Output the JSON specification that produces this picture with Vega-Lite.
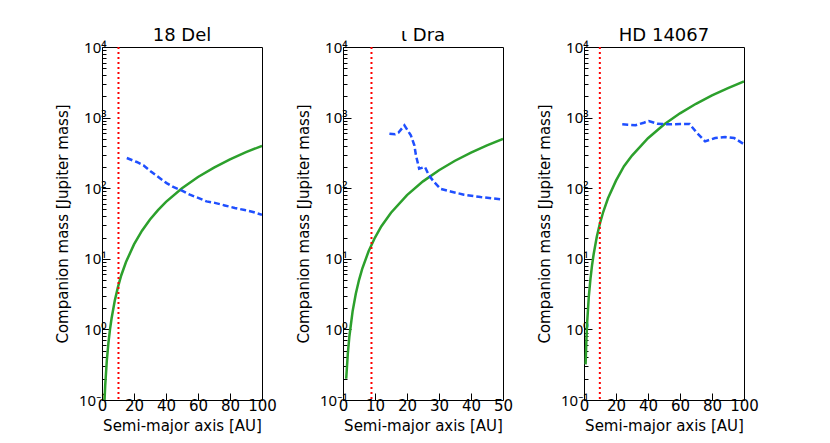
{
  "$schema": "https://vega.github.io/schema/vega-lite/v6.json",
  "padding": {"left": 55, "top": 26, "right": 5, "bottom": 5},
  "background": "white",
  "config": {
    "view": {"stroke": "#000", "strokeWidth": 1},
    "font": "DejaVu Sans",
    "axis": {
      "labelFont": "DejaVu Sans", "titleFont": "DejaVu Sans",
      "labelFontSize": 15, "titleFontSize": 15,
      "labelColor": "#000", "titleColor": "#000", "tickColor": "#000",
      "titleFontWeight": "normal", "grid": false, "domain": false,
      "labelOverlap": false, "labelSeparation": -100
    },
    "axisX": {"tickSize": -7, "labelPadding": 5, "labelFlush": false, "titlePadding": 5},
    "axisY": {
      "labelFont": "Noto Sans",
      "values": [0.1, 0.2, 0.3, 0.4, 0.5, 0.6, 0.7, 0.8, 0.9, 1, 2, 3, 4, 5, 6, 7, 8, 9, 10, 20, 30, 40, 50, 60, 70, 80, 90, 100, 200, 300, 400, 500, 600, 700, 800, 900, 1000, 2000, 3000, 4000, 5000, 6000, 7000, 8000, 9000, 10000],
      "tickSize": {"condition": {"test": "abs(log(datum.value) / LN10 - round(log(datum.value) / LN10)) < 0.01", "value": -8}, "value": -4},
      "labelExpr": "abs(log(datum.value) / LN10 - round(log(datum.value) / LN10)) > 0.01 ? '' : datum.value < 0.5 ? '10⁻¹' : datum.value < 5 ? '10⁰' : datum.value < 50 ? '10¹' : datum.value < 500 ? '10²' : datum.value < 5000 ? '10³' : '10⁴'",
      "labelPadding": 4, "titlePadding": 8
    },
    "title": {"font": "DejaVu Sans", "fontSize": 18, "fontWeight": "normal", "color": "#000", "offset": -5}
  },
  "datasets": {
    "del": [
      {"s": "limit", "a": 1, "m": 0.04}, {"s": "limit", "a": 1.5, "m": 0.09}, {"s": "limit", "a": 2, "m": 0.16},
      {"s": "limit", "a": 3, "m": 0.36}, {"s": "limit", "a": 4, "m": 0.64}, {"s": "limit", "a": 5, "m": 1.0},
      {"s": "limit", "a": 6, "m": 1.44}, {"s": "limit", "a": 8, "m": 2.56}, {"s": "limit", "a": 10, "m": 4.0},
      {"s": "limit", "a": 12, "m": 5.8}, {"s": "limit", "a": 15, "m": 9.0}, {"s": "limit", "a": 20, "m": 16},
      {"s": "limit", "a": 25, "m": 25}, {"s": "limit", "a": 30, "m": 36}, {"s": "limit", "a": 35, "m": 49},
      {"s": "limit", "a": 40, "m": 64}, {"s": "limit", "a": 50, "m": 100}, {"s": "limit", "a": 60, "m": 144},
      {"s": "limit", "a": 70, "m": 196}, {"s": "limit", "a": 80, "m": 256}, {"s": "limit", "a": 90, "m": 324},
      {"s": "limit", "a": 100, "m": 398},
      {"s": "rv", "a": 15.5, "m": 268}, {"s": "rv", "a": 21.7, "m": 235}, {"s": "rv", "a": 25.9, "m": 211},
      {"s": "rv", "a": 31, "m": 169}, {"s": "rv", "a": 35.2, "m": 144}, {"s": "rv", "a": 40.4, "m": 118},
      {"s": "rv", "a": 44.5, "m": 104}, {"s": "rv", "a": 49.7, "m": 93}, {"s": "rv", "a": 54.9, "m": 81},
      {"s": "rv", "a": 60.1, "m": 73}, {"s": "rv", "a": 65.3, "m": 65}, {"s": "rv", "a": 70.5, "m": 62},
      {"s": "rv", "a": 76.7, "m": 57}, {"s": "rv", "a": 83, "m": 52.5}, {"s": "rv", "a": 89.2, "m": 49},
      {"s": "rv", "a": 94.4, "m": 46}, {"s": "rv", "a": 100, "m": 42},
      {"s": "sep", "a": 10.3}
    ],
    "dra": [
      {"s": "limit", "a": 1, "m": 0.2}, {"s": "limit", "a": 1.5, "m": 0.45}, {"s": "limit", "a": 2, "m": 0.8},
      {"s": "limit", "a": 3, "m": 1.8}, {"s": "limit", "a": 4, "m": 3.2}, {"s": "limit", "a": 5, "m": 5},
      {"s": "limit", "a": 6, "m": 7.2}, {"s": "limit", "a": 8, "m": 12.8}, {"s": "limit", "a": 10, "m": 20},
      {"s": "limit", "a": 12, "m": 29}, {"s": "limit", "a": 15, "m": 45}, {"s": "limit", "a": 20, "m": 80},
      {"s": "limit", "a": 25, "m": 125}, {"s": "limit", "a": 30, "m": 180}, {"s": "limit", "a": 35, "m": 245},
      {"s": "limit", "a": 40, "m": 320}, {"s": "limit", "a": 45, "m": 405}, {"s": "limit", "a": 50, "m": 500},
      {"s": "rv", "a": 14.5, "m": 592}, {"s": "rv", "a": 16.3, "m": 580}, {"s": "rv", "a": 17.3, "m": 611},
      {"s": "rv", "a": 19.2, "m": 778}, {"s": "rv", "a": 21.2, "m": 561}, {"s": "rv", "a": 22.3, "m": 405},
      {"s": "rv", "a": 22.8, "m": 292}, {"s": "rv", "a": 23.8, "m": 189}, {"s": "rv", "a": 25.6, "m": 200},
      {"s": "rv", "a": 26.9, "m": 151}, {"s": "rv", "a": 28.5, "m": 122}, {"s": "rv", "a": 30.5, "m": 98},
      {"s": "rv", "a": 33.6, "m": 90}, {"s": "rv", "a": 37.8, "m": 81}, {"s": "rv", "a": 43, "m": 75},
      {"s": "rv", "a": 50, "m": 69},
      {"s": "sep", "a": 8.9}
    ],
    "hd": [
      {"s": "limit", "a": 1, "m": 0.32}, {"s": "limit", "a": 1.5, "m": 0.72}, {"s": "limit", "a": 2, "m": 1.28},
      {"s": "limit", "a": 3, "m": 2.9}, {"s": "limit", "a": 4, "m": 5.1}, {"s": "limit", "a": 5, "m": 8},
      {"s": "limit", "a": 6, "m": 11.5}, {"s": "limit", "a": 8, "m": 20.5}, {"s": "limit", "a": 10, "m": 32},
      {"s": "limit", "a": 12, "m": 46}, {"s": "limit", "a": 15, "m": 72}, {"s": "limit", "a": 20, "m": 128},
      {"s": "limit", "a": 25, "m": 205}, {"s": "limit", "a": 30, "m": 290}, {"s": "limit", "a": 40, "m": 510},
      {"s": "limit", "a": 50, "m": 800}, {"s": "limit", "a": 60, "m": 1150}, {"s": "limit", "a": 70, "m": 1570},
      {"s": "limit", "a": 80, "m": 2060}, {"s": "limit", "a": 90, "m": 2620}, {"s": "limit", "a": 100, "m": 3250},
      {"s": "rv", "a": 23.9, "m": 803}, {"s": "rv", "a": 27.5, "m": 790}, {"s": "rv", "a": 32.2, "m": 778},
      {"s": "rv", "a": 37.4, "m": 847}, {"s": "rv", "a": 40.5, "m": 896}, {"s": "rv", "a": 45.7, "m": 820},
      {"s": "rv", "a": 51.5, "m": 803}, {"s": "rv", "a": 60.2, "m": 811}, {"s": "rv", "a": 66, "m": 811},
      {"s": "rv", "a": 70.1, "m": 625}, {"s": "rv", "a": 75.7, "m": 461}, {"s": "rv", "a": 82, "m": 514},
      {"s": "rv", "a": 88.2, "m": 531}, {"s": "rv", "a": 93.8, "m": 514}, {"s": "rv", "a": 100, "m": 420},
      {"s": "sep", "a": 9.9}
    ]
  },
  "spacing": 81,
  "bounds": "flush",
  "hconcat": [
    {
      "title": "18 Del",
      "width": 160, "height": 353,
      "data": {"name": "del"},
      "encoding": {
        "x": {"field": "a", "type": "quantitative", "scale": {"domain": [0, 100], "nice": false},
          "axis": {"values": [0, 20, 40, 60, 80, 100], "labelOverlap": false, "title": "Semi-major axis [AU]"}},
        "y": {"field": "m", "type": "quantitative", "scale": {"type": "log", "domain": [0.1, 10000], "nice": false},
          "axis": {"labelOverlap": false, "title": "Companion mass [Jupiter mass]"}}
      },
      "layer": [
        {
          "transform": [{"filter": "datum.s == 'limit'"}],
          "mark": {"type": "line", "color": "#2ca02c", "strokeWidth": 2.5, "clip": true}
        },
        {
          "transform": [{"filter": "datum.s == 'rv'"}],
          "mark": {"type": "line", "color": "#1f4fff", "strokeWidth": 2.5, "strokeDash": [6, 3], "clip": true}
        },
        {
          "transform": [{"filter": "datum.s == 'sep'"}],
          "mark": {"type": "rule", "color": "#ff0000", "strokeWidth": 2, "strokeDash": [2, 3]},
          "encoding": {"y": null}
        }
      ]
    },
    {
      "title": "ι Dra",
      "width": 160, "height": 353,
      "data": {"name": "dra"},
      "encoding": {
        "x": {"field": "a", "type": "quantitative", "scale": {"domain": [0, 50], "nice": false},
          "axis": {"values": [0, 10, 20, 30, 40, 50], "labelOverlap": false, "title": "Semi-major axis [AU]"}},
        "y": {"field": "m", "type": "quantitative", "scale": {"type": "log", "domain": [0.1, 10000], "nice": false},
          "axis": {"labelOverlap": false, "title": "Companion mass [Jupiter mass]"}}
      },
      "layer": [
        {
          "transform": [{"filter": "datum.s == 'limit'"}],
          "mark": {"type": "line", "color": "#2ca02c", "strokeWidth": 2.5, "clip": true}
        },
        {
          "transform": [{"filter": "datum.s == 'rv'"}],
          "mark": {"type": "line", "color": "#1f4fff", "strokeWidth": 2.5, "strokeDash": [6, 3], "clip": true}
        },
        {
          "transform": [{"filter": "datum.s == 'sep'"}],
          "mark": {"type": "rule", "color": "#ff0000", "strokeWidth": 2, "strokeDash": [2, 3]},
          "encoding": {"y": null}
        }
      ]
    },
    {
      "title": "HD 14067",
      "width": 160, "height": 353,
      "data": {"name": "hd"},
      "encoding": {
        "x": {"field": "a", "type": "quantitative", "scale": {"domain": [0, 100], "nice": false},
          "axis": {"values": [0, 20, 40, 60, 80, 100], "labelOverlap": false, "title": "Semi-major axis [AU]"}},
        "y": {"field": "m", "type": "quantitative", "scale": {"type": "log", "domain": [0.1, 10000], "nice": false},
          "axis": {"labelOverlap": false, "title": "Companion mass [Jupiter mass]"}}
      },
      "layer": [
        {
          "transform": [{"filter": "datum.s == 'limit'"}],
          "mark": {"type": "line", "color": "#2ca02c", "strokeWidth": 2.5, "clip": true}
        },
        {
          "transform": [{"filter": "datum.s == 'rv'"}],
          "mark": {"type": "line", "color": "#1f4fff", "strokeWidth": 2.5, "strokeDash": [6, 3], "clip": true}
        },
        {
          "transform": [{"filter": "datum.s == 'sep'"}],
          "mark": {"type": "rule", "color": "#ff0000", "strokeWidth": 2, "strokeDash": [2, 3]},
          "encoding": {"y": null}
        }
      ]
    }
  ]
}
